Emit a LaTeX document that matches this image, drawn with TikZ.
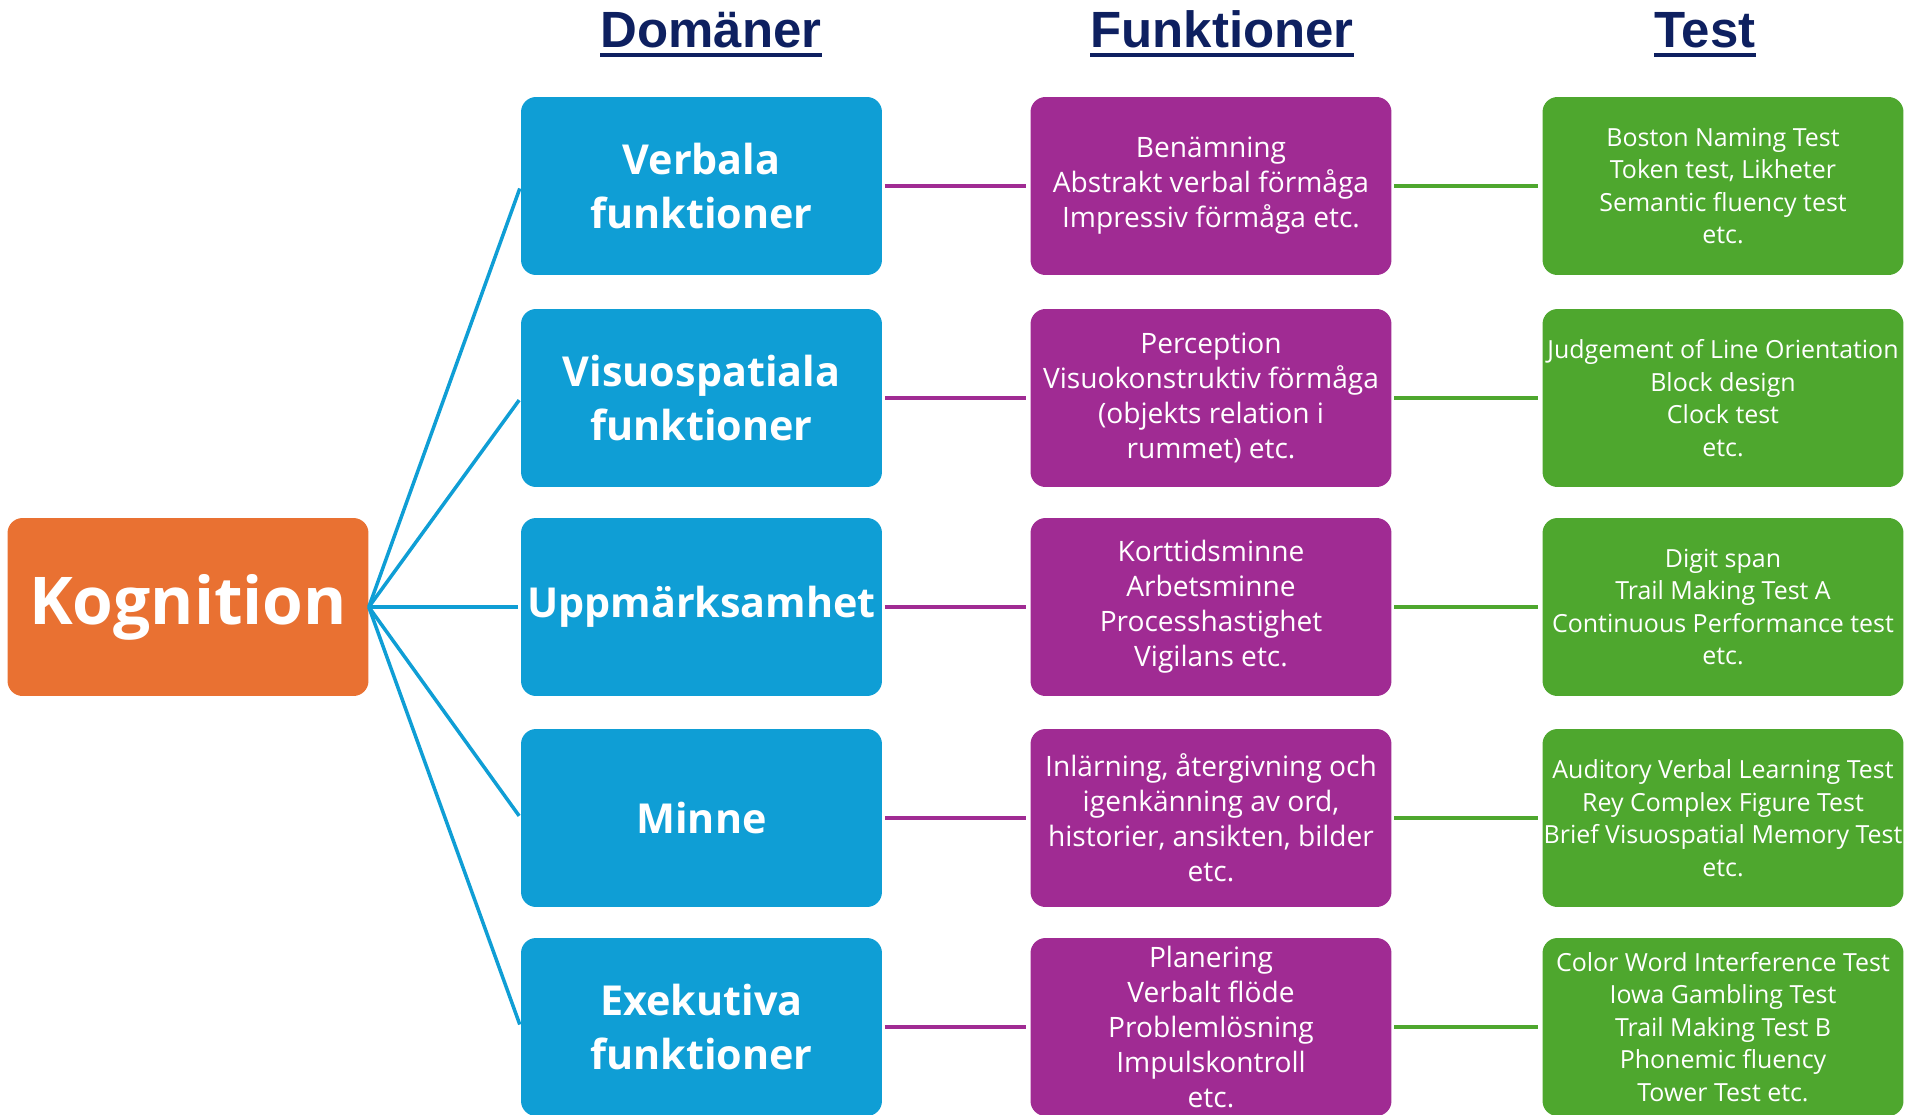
\documentclass[tikz,border=0pt]{standalone}
\usepackage{fontspec}
\setmainfont{Open Sans}
\newfontfamily\headfont{Liberation Sans}
\definecolor{kogOrange}{HTML}{E97132}
\definecolor{domBlue}{HTML}{0F9ED5}
\definecolor{funPurple}{HTML}{A02B93}
\definecolor{testGreen}{HTML}{4EA72E}
\definecolor{headNavy}{HTML}{0E2060}

\begin{document}
\begin{tikzpicture}[x=0.02cm, y=-0.02cm,
        box/.style={rounded corners=0.3cm, text=white, align=center, inner sep=0pt,
            minimum width=7.22cm, minimum height=3.56cm},
        kog/.style={box, fill=kogOrange, font=\bfseries\fontsize{37.5}{44}\selectfont},
        dom/.style={box, fill=domBlue, font=\bfseries\fontsize{23.5}{30.4}\selectfont},
        fun/.style={box, fill=funPurple, font=\fontsize{16}{19.9}\selectfont},
        tst/.style={box, fill=testGreen, font=\fontsize{14.2}{18.5}\selectfont},
        head/.style={font=\headfont\bfseries\fontsize{29}{34}\selectfont, text=headNavy, inner sep=0pt, anchor=base},
        spoke/.style={domBlue, line width=2pt, shorten >=1.5pt},
        link/.style={line width=2.3pt, shorten <=1.5pt, shorten >=2.5pt}]
        \def\colD{701.5} \def\colF{1211} \def\colT{1723}

        \useasboundingbox (0,0) rectangle (1908,1115);

        \node[head] (hDom) at (711,48) {Domäner};
        \node[head] (hFun) at (1222,48) {Funktioner};
        \node[head] (hTst) at (1705,48) {Test};
        \foreach \h in {hDom,hFun,hTst}
            \draw[headNavy, line width=0.08cm] ([yshift=-0.15cm]\h.base west) -- ([yshift=-0.15cm]\h.base east);

        \node[kog] (kogn) at (188,607) {Kognition};

        \node[dom] (dVerb) at (\colD,186) {Verbala\\funktioner};
        \node[dom] (dVisu) at (\colD,398) {Visuospatiala\\funktioner};
        \node[dom] (dUpp) at (\colD,607) {Uppmärksamhet};
        \node[dom] (dMin) at (\colD,818) {Minne};
        \node[dom] (dExe) at (\colD,1027) {Exekutiva\\funktioner};

        \node[fun] (fVerb) at (\colF,186) {Benämning\\Abstrakt verbal förmåga\\Impressiv förmåga etc.};
        \node[fun] (fVisu) at (\colF,398) {Perception\\Visuokonstruktiv förmåga\\(objekts relation i\\rummet) etc.};
        \node[fun] (fUpp) at (\colF,607) {Korttidsminne\\Arbetsminne\\Processhastighet\\Vigilans etc.};
        \node[fun] (fMin) at (\colF,818) {Inlärning, återgivning och\\igenkänning av ord,\\historier, ansikten, bilder\\etc.};
        \node[fun] (fExe) at (\colF,1027) {Planering\\Verbalt flöde\\Problemlösning\\Impulskontroll\\etc.};

        \node[tst] (tVerb) at (\colT,186) {Boston Naming Test\\Token test, Likheter\\Semantic fluency test\\etc.};
        \node[tst] (tVisu) at (\colT,398) {Judgement of Line Orientation\\Block design\\Clock test\\etc.};
        \node[tst] (tUpp) at (\colT,607) {Digit span\\Trail Making Test A\\Continuous Performance test\\etc.};
        \node[tst] (tMin) at (\colT,818) {Auditory Verbal Learning Test\\Rey Complex Figure Test\\Brief Visuospatial Memory Test\\etc.};
        \node[tst] (tExe) at (\colT,1027) {Color Word Interference Test\\Iowa Gambling Test\\Trail Making Test B\\Phonemic fluency\\Tower Test etc.};

        \foreach \r in {Verb,Visu,Upp,Min,Exe} {
            \draw[spoke] (kogn.east) -- (d\r.west);
            \draw[link, funPurple] (d\r.east) -- (f\r.west);
            \draw[link, testGreen] (f\r.east) -- (t\r.west);
        }
    \end{tikzpicture}
\end{document}
